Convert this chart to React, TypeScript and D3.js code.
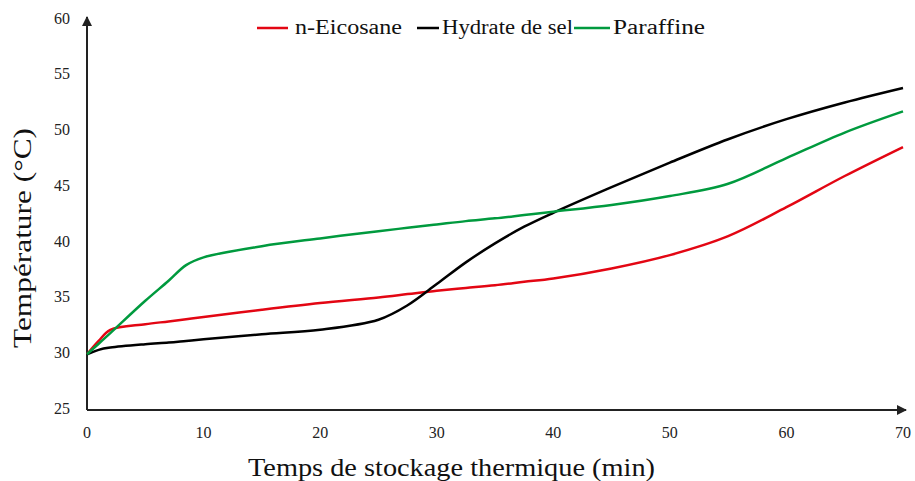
import React from "react";
import * as d3 from "d3";

const times = [0, 1, 2, 5, 7, 8.5, 10, 15, 20, 25, 27.5, 30, 32.5, 35, 37.5, 40, 45, 50, 55, 60, 65, 70];
const eicosane = [30, 31.2, 32.2, 32.7, 32.95, 33.15, 33.35, 34.0, 34.6, 35.1, 35.4, 35.7, 35.95, 36.2, 36.5, 36.8, 37.7, 38.9, 40.6, 43.2, 46.0, 48.6];
const hydrate = [30, 30.4, 30.6, 30.9, 31.05, 31.2, 31.35, 31.8, 32.2, 33.1, 34.4, 36.3, 38.25, 39.95, 41.45, 42.7, 45.0, 47.2, 49.3, 51.1, 52.6, 53.9];
const paraffine = [30, 30.95, 31.9, 34.8, 36.6, 38.0, 38.7, 39.7, 40.4, 41.05, 41.35, 41.65, 41.95, 42.2, 42.5, 42.8, 43.4, 44.2, 45.3, 47.6, 49.9, 51.8];

const seriesNames = ["n-Eicosane", "Hydrate de sel", "Paraffine"];
const seriesColors = ["#e30613", "#000000", "#009a3e"];
const xTicks = [0, 10, 20, 30, 40, 50, 60, 70];
const yTicks = [25, 30, 35, 40, 45, 50, 55, 60];

const W = 915;
const H = 481;
const FONT = "'Liberation Serif', 'DejaVu Serif', serif";

export default function App() {
  const x = d3.scaleLinear().domain([0, 70]).range([87, 903]);
  const y = d3.scaleLinear().domain([25, 60]).range([410, 20]);
  const line = d3
    .line<number>()
    .x((_, i) => x(times[i]))
    .y((d) => y(d))
    .curve(d3.curveCatmullRom.alpha(0.5));
  const all = [eicosane, hydrate, paraffine];

  // legend layout: [line start, line end, text start, text width]
  const legend = [
    [257, 288, 295, 107],
    [417, 439, 442, 131],
    [574, 610, 613, 92],
  ];

  return (
    <svg
      width={W}
      height={H}
      style={{ position: "absolute", left: 0, top: 0, background: "#fff" }}
      fontFamily={FONT}
    >
      <defs>
        <marker id="arr" viewBox="0 0 10 10" refX="9" refY="5" markerWidth="5" markerHeight="5" orient="auto">
          <path d="M0,0 L10,5 L0,10 z" fill="#222" />
        </marker>
      </defs>

      {/* axes */}
      <line x1={x(0)} y1={y(25)} x2={906} y2={y(25)} stroke="#222" strokeWidth={2} markerEnd="url(#arr)" />
      <line x1={x(0)} y1={y(25)} x2={x(0)} y2={17} stroke="#222" strokeWidth={2} markerEnd="url(#arr)" />

      {yTicks.map((t) => (
        <text key={t} x={70} y={y(t)} textAnchor="end" dominantBaseline="middle" fontSize={16} fill="#222">
          {t}
        </text>
      ))}
      {xTicks.map((t) => (
        <text key={t} x={x(t)} y={438} textAnchor="middle" fontSize={16} fill="#222">
          {t}
        </text>
      ))}

      <text x={248} y={476} fontSize={25} fill="#111" textLength={407} lengthAdjust="spacingAndGlyphs">
        Temps de stockage thermique (min)
      </text>
      <text
        transform={`translate(31,${348}) rotate(-90)`}
        fontSize={25}
        fill="#111"
        textLength={220}
        lengthAdjust="spacingAndGlyphs"
      >
        Température (°C)
      </text>

      {all.map((s, i) => (
        <path key={i} d={line(s) ?? ""} fill="none" stroke={seriesColors[i]} strokeWidth={2.5} />
      ))}

      {seriesNames.map((n, i) => (
        <g key={n}>
          <line x1={legend[i][0]} x2={legend[i][1]} y1={28} y2={28} stroke={seriesColors[i]} strokeWidth={2.5} />
          <text
            x={legend[i][2]}
            y={34}
            fontSize={20}
            fill="#111"
            textLength={legend[i][3]}
            lengthAdjust="spacingAndGlyphs"
          >
            {n}
          </text>
        </g>
      ))}
    </svg>
  );
}
